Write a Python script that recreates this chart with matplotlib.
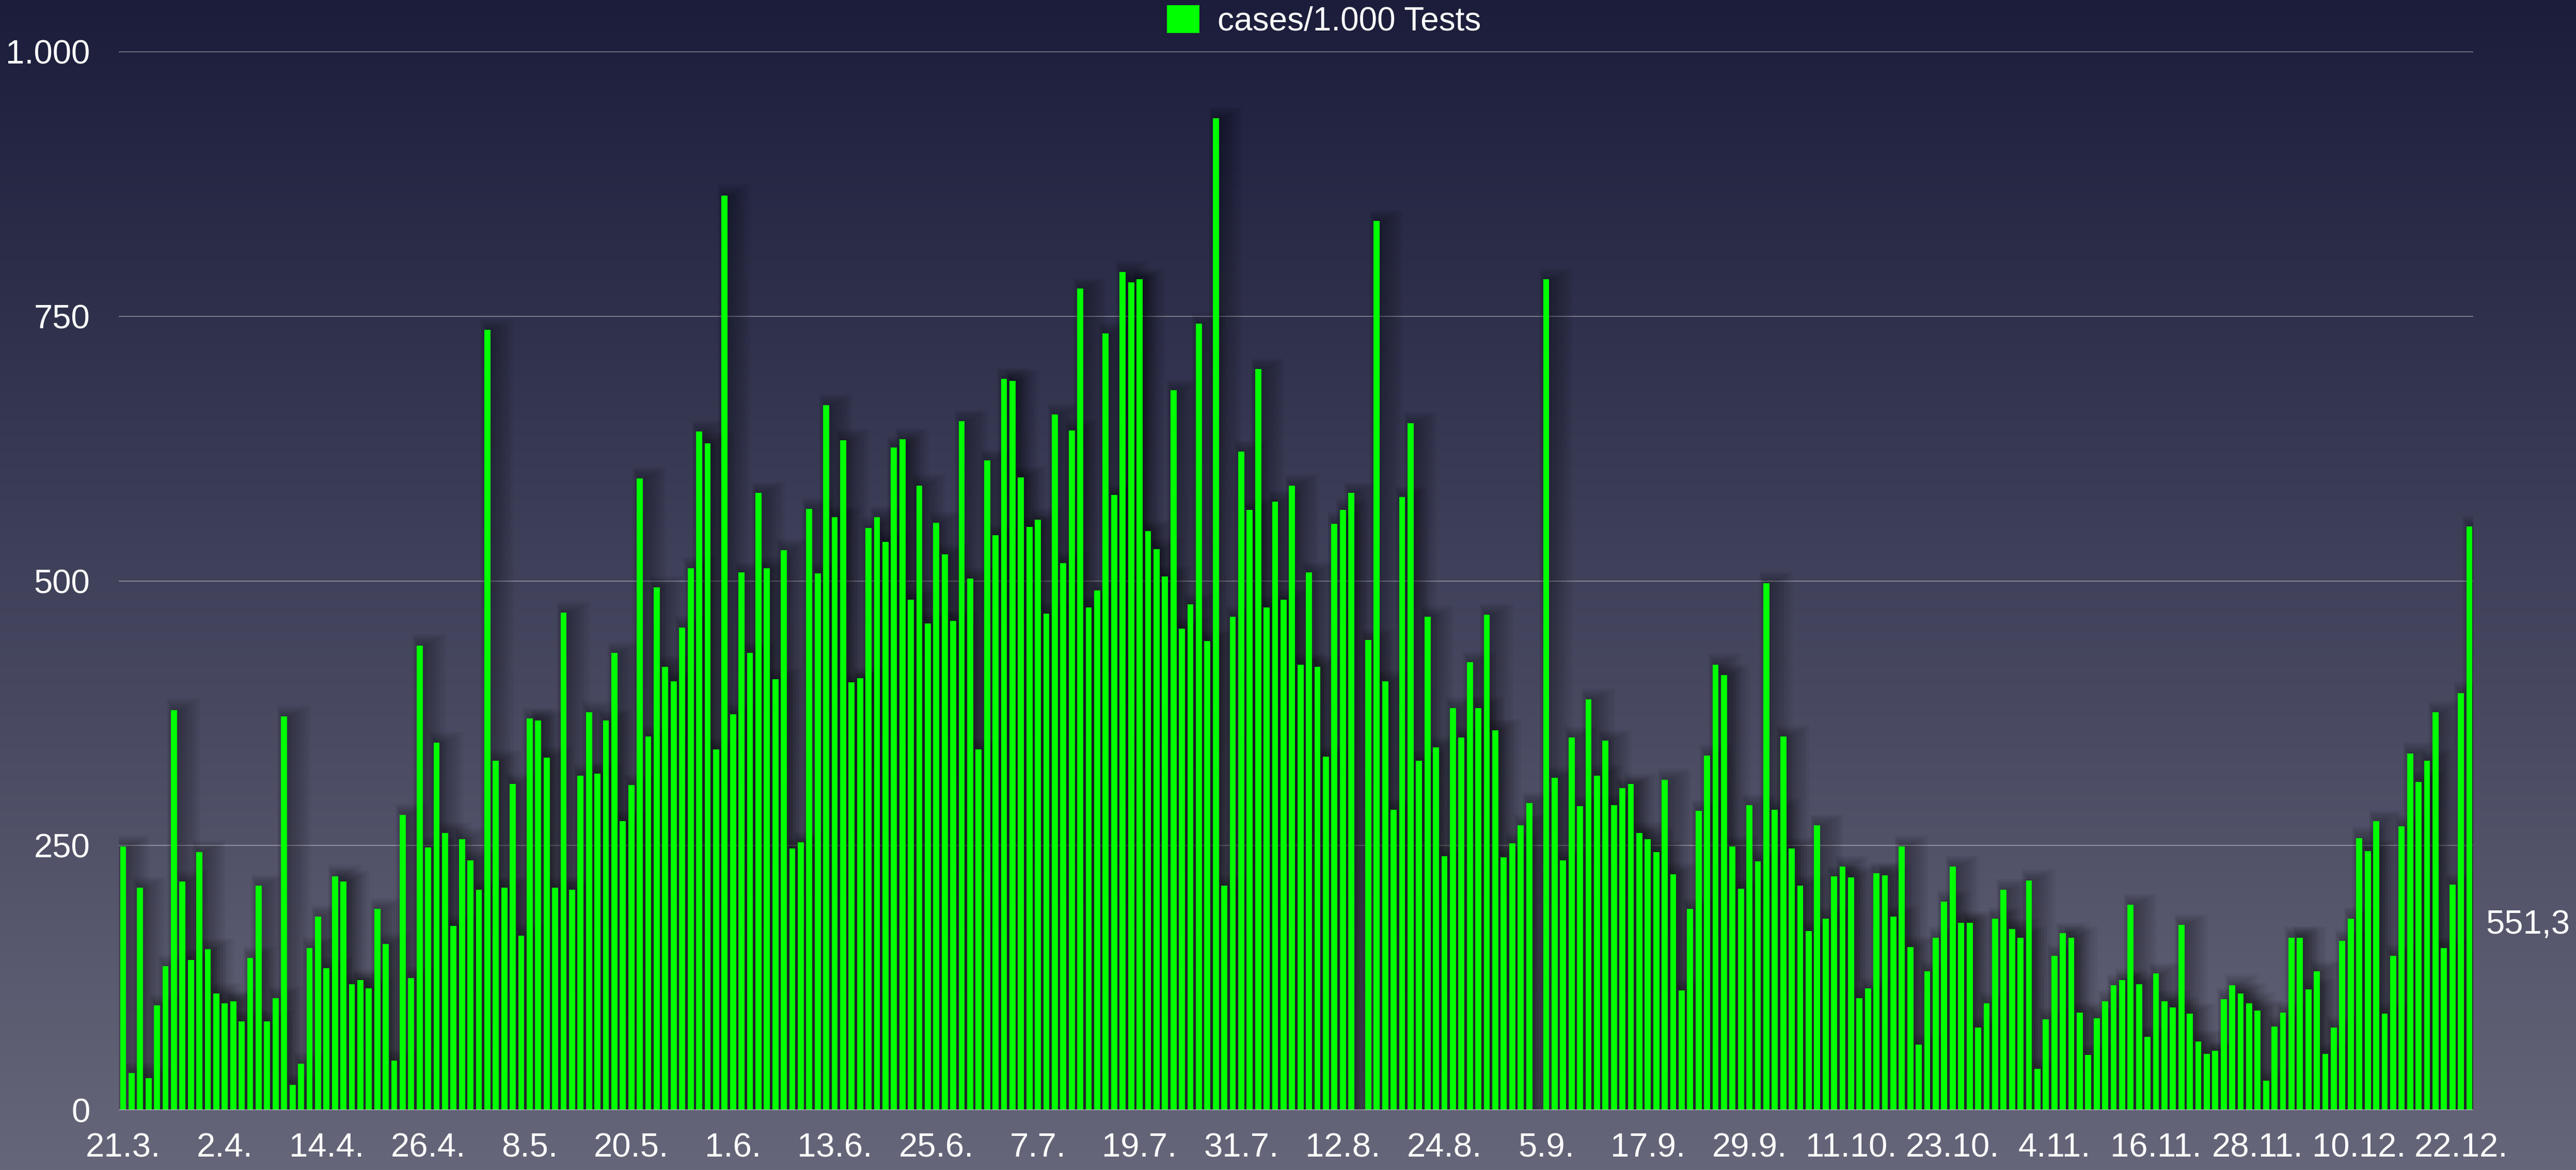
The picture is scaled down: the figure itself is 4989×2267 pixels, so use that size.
import numpy as np
import matplotlib
matplotlib.use("Agg")
from matplotlib import pyplot as plt
from matplotlib.patches import Patch

# daily values, 21.3. .. 23.12. (0 = no data that day)
cases_per_1000 = [
    249, 35, 210, 30, 99, 136, 378, 216, 142, 244, 152, 110, 101, 103, 84, 144, 212, 84, 106, 372, 24, 44, 153, 183, 134, 221, 216,
    119, 123, 115, 190, 157, 47, 279, 125, 439, 248, 347, 262, 174, 256, 236, 208, 737, 330, 210, 308, 165, 370, 368, 333, 210, 470, 208, 316,
    376, 318, 368, 432, 273, 307, 597, 353, 494, 419, 405, 456, 512, 641, 630, 341, 864, 374, 508, 432, 583, 512, 407, 529, 247, 253, 568, 507,
    666, 560, 633, 404, 408, 550, 560, 537, 626, 634, 482, 590, 460, 555, 525, 462, 651, 502, 341, 614, 543, 691, 689, 598, 551, 558, 469, 657,
    517, 642, 776, 475, 491, 734, 581, 792, 782, 785, 547, 530, 504, 680, 455, 478, 743, 443, 937, 212, 466, 622, 567, 700, 475, 575, 482, 590,
    421, 508, 419, 334, 554, 567, 583, 0, 444, 840, 405, 284, 579, 649, 330, 466, 343, 240, 380, 352, 423, 380, 468, 359, 239, 252, 269, 290,
    0, 785, 314, 236, 352, 287, 388, 316, 349, 288, 304, 308, 262, 256, 244, 312, 223, 113, 190, 283, 335, 421, 411, 249, 209, 288, 235, 498,
    284, 353, 247, 212, 169, 269, 181, 221, 230, 220, 106, 115, 224, 222, 183, 249, 154, 62, 131, 163, 197, 230, 177, 177, 78, 101, 181, 208,
    171, 163, 217, 39, 86, 146, 167, 163, 92, 52, 87, 103, 118, 123, 194, 119, 69, 129, 103, 97, 175, 91, 65, 53, 56, 105, 118, 110,
    101, 94, 28, 79, 92, 163, 163, 114, 131, 53, 78, 160, 181, 257, 245, 273, 91, 146, 268, 337, 310, 330, 376, 153, 213, 394, 551.3,
]

tick_labels = ['21.3.', '2.4.', '14.4.', '26.4.', '8.5.', '20.5.', '1.6.', '13.6.', '25.6.',
               '7.7.', '19.7.', '31.7.', '12.8.', '24.8.', '5.9.', '17.9.', '29.9.', '11.10.',
               '23.10.', '4.11.', '16.11.', '28.11.', '10.12.', '22.12.']
tick_step = 12
y_ticks = [0, 250, 500, 750, 1000]
y_tick_labels = ['0', '250', '500', '750', '1.000']
legend_label = 'cases/1.000 Tests'

plt.rcParams['font.family'] = ['Liberation Sans', 'DejaVu Sans']

W, H = 4989, 2267
fig = plt.figure(figsize=(W / 100, H / 100), dpi=100)

# background gradient
bg = fig.add_axes([0, 0, 1, 1], zorder=-10)
t = np.linspace(0, 1, 512)[:, None, None]
top_c = np.array([27, 29, 59]) / 255
bot_c = np.array([102, 102, 122]) / 255
bg.imshow(top_c + (bot_c - top_c) * t, aspect='auto', extent=[0, 1, 0, 1])
bg.axis('off')

left, right, top, bottom = 230, 4790, 100, 2151
ax = fig.add_axes([left / W, 1 - bottom / H, (right - left) / W, (bottom - top) / H])
ax.patch.set_alpha(0)

vals = np.array(cases_per_1000)
x = np.arange(len(vals))

# grid
for yv in y_ticks[1:]:
    ax.axhline(yv, color='white', alpha=0.75 if yv == 1000 else 0.4, lw=1.3, zorder=1)
ax.axhline(0, color='#b8b8c2', lw=2.5, zorder=5)

# soft shadow behind the bars
for k in range(8):
    ax.bar(x + 0.3 + 0.12 * k, np.where(vals > 0, vals + 1.5 * k, 0), width=0.8 + 0.45 * k,
           color='black', alpha=0.045, linewidth=0, zorder=2)

ax.bar(x, vals, width=0.72, color='#00ff00', linewidth=0, zorder=3)

ax.set_xlim(-0.52, len(vals) - 1 + 0.46)
ax.set_ylim(0, 1000)
ax.set_xticks(x[::tick_step][:len(tick_labels)])
ax.set_xticklabels(tick_labels)
ax.set_yticks(y_ticks)
ax.set_yticklabels(y_tick_labels)
ax.tick_params(axis='x', length=0, pad=31, labelsize=47, colors='white')
ax.tick_params(axis='y', length=0, pad=40, labelsize=47, colors='white')
for s in ax.spines.values():
    s.set_visible(False)

ax.text(1.0053, 0.175, f'{vals[-1]:.1f}'.replace('.', ','), transform=ax.transAxes,
        ha='left', va='center', fontsize=47, color='white')

fig.legend(handles=[Patch(facecolor='#00ff00', label=legend_label)], loc='center',
           bbox_to_anchor=(0.514, 0.982), frameon=False, fontsize=46,
           handlelength=0.98, handleheight=0.92, handletextpad=0.55, labelcolor='white',
           borderpad=0, borderaxespad=0)

fig.savefig('out.png', dpi=100)
